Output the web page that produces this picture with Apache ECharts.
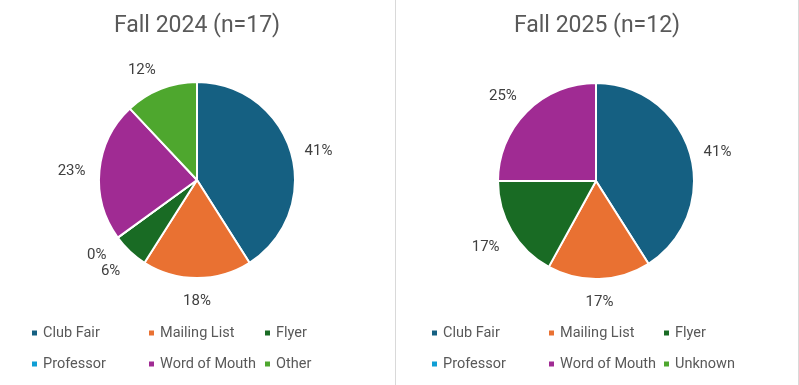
<!DOCTYPE html>
<html>
<head>
<meta charset="utf-8">
<script src="https://cdn.jsdelivr.net/npm/echarts@6/dist/echarts.min.js"></script>
<style>html,body{margin:0;padding:0;background:#fff;}#c{width:799px;height:385px;}</style>
</head>
<body>
<div id="c"></div>
<script>
var titles = ['Fall 2024 (n=17)', 'Fall 2025 (n=12)'];
var categories2024 = ['Club Fair', 'Mailing List', 'Flyer', 'Professor', 'Word of Mouth', 'Other'];
var values2024 = [41, 18, 6, 0, 23, 12];
var categories2025 = ['Club Fair', 'Mailing List', 'Flyer', 'Professor', 'Word of Mouth', 'Unknown'];
var values2025 = [41, 17, 17, 0, 25, 0];
var colors = ['#156082', '#E97132', '#196B24', '#0F9ED5', '#A02B93', '#4EA72E'];

var FONT = 'Roboto';
var LABEL_DIST = 14;      // distance of the label anchor beyond the pie edge
var AXIS_SNAP = 0.33;     // |component| below which the label is centred on that axis
var LABEL_DY = 2;         // small baseline correction for the label glyphs

function buildData(cats, vals, hideZero) {
  return cats.map(function (c, i) {
    var d = { name: c, value: vals[i], itemStyle: { color: colors[i] } };
    if (hideZero && vals[i] === 0) d.label = { show: false };
    return d;
  });
}

// Excel-like "outside end" placement: anchor on the radial ray, box hung off it by quadrant
function labelLayoutFn(p) {
  var pts = p.labelLinePoints;
  if (!pts || pts.length < 2) return {};
  var dx = pts[1][0] - pts[0][0], dy = pts[1][1] - pts[0][1];
  var L = Math.sqrt(dx * dx + dy * dy) || 1;
  var ux = dx / L, uy = dy / L;
  var w = p.labelRect.width, h = p.labelRect.height;
  var fx = Math.abs(ux) < AXIS_SNAP ? 0 : (ux > 0 ? 1 : -1);
  var fy = Math.abs(uy) < AXIS_SNAP ? 0 : (uy > 0 ? 1 : -1);
  var ax = pts[0][0] + ux * LABEL_DIST, ay = pts[0][1] + uy * LABEL_DIST;
  return { x: ax + fx * w / 2, y: ay + fy * h / 2 + LABEL_DY, align: 'center', verticalAlign: 'middle' };
}

function pieSeries(center, cats, vals, hideZero) {
  return {
    type: 'pie',
    center: center,
    radius: 98,
    startAngle: 90,
    clockwise: true,
    avoidLabelOverlap: false,
    animation: false,
    itemStyle: { borderColor: '#ffffff', borderWidth: 2 },
    label: {
      show: true,
      position: 'outside',
      formatter: function (p) { return p.value + '%'; },
      fontFamily: FONT,
      fontSize: 15,
      color: '#404040',
      lineHeight: 15
    },
    labelLine: { show: true, length: 10, length2: 0, lineStyle: { color: 'rgba(0,0,0,0)', width: 0 } },
    labelLayout: labelLayoutFn,
    emphasis: { disabled: true },
    data: buildData(cats, vals, hideZero)
  };
}

var legendCols = [[30, 147, 263], [430, 547, 662]];
var legendRows = [325, 356];
var legends = [];
[categories2024, categories2025].forEach(function (cats, k) {
  cats.forEach(function (c, i) {
    legends.push({
      data: [c],
      left: legendCols[k][i % 3],
      top: legendRows[Math.floor(i / 3)],
      icon: 'rect',
      itemWidth: 7,
      itemHeight: 7,
      itemGap: 0,
      selectedMode: false,
      padding: 0,
      textStyle: { fontFamily: FONT, fontSize: 14.5, color: '#595959', lineHeight: 16, padding: [0, 0, 0, 0] }
    });
  });
});

var titleStyle = { fontFamily: FONT, fontSize: 23, fontWeight: 'normal', color: '#595959', lineHeight: 30 };
var chart = echarts.init(document.getElementById('c'), null, { renderer: 'canvas' });
chart.setOption({
  animation: false,
  backgroundColor: '#ffffff',
  title: [
    { text: titles[0], left: 197, top: 11, padding: 0, textAlign: 'center', textStyle: titleStyle },
    { text: titles[1], left: 597, top: 11, padding: 0, textAlign: 'center', textStyle: titleStyle }
  ],
  legend: legends,
  graphic: [
    { type: 'line', shape: { x1: 395.5, y1: 0, x2: 395.5, y2: 385 }, style: { stroke: '#d9d9d9', lineWidth: 1 }, silent: true },
    { type: 'line', shape: { x1: 798.5, y1: 0, x2: 798.5, y2: 385 }, style: { stroke: '#d9d9d9', lineWidth: 1 }, silent: true }
  ],
  series: [
    pieSeries([197, 180], categories2024, values2024, false),
    pieSeries([596, 181], categories2025, values2025, true)
  ]
});
</script>
</body>
</html>
